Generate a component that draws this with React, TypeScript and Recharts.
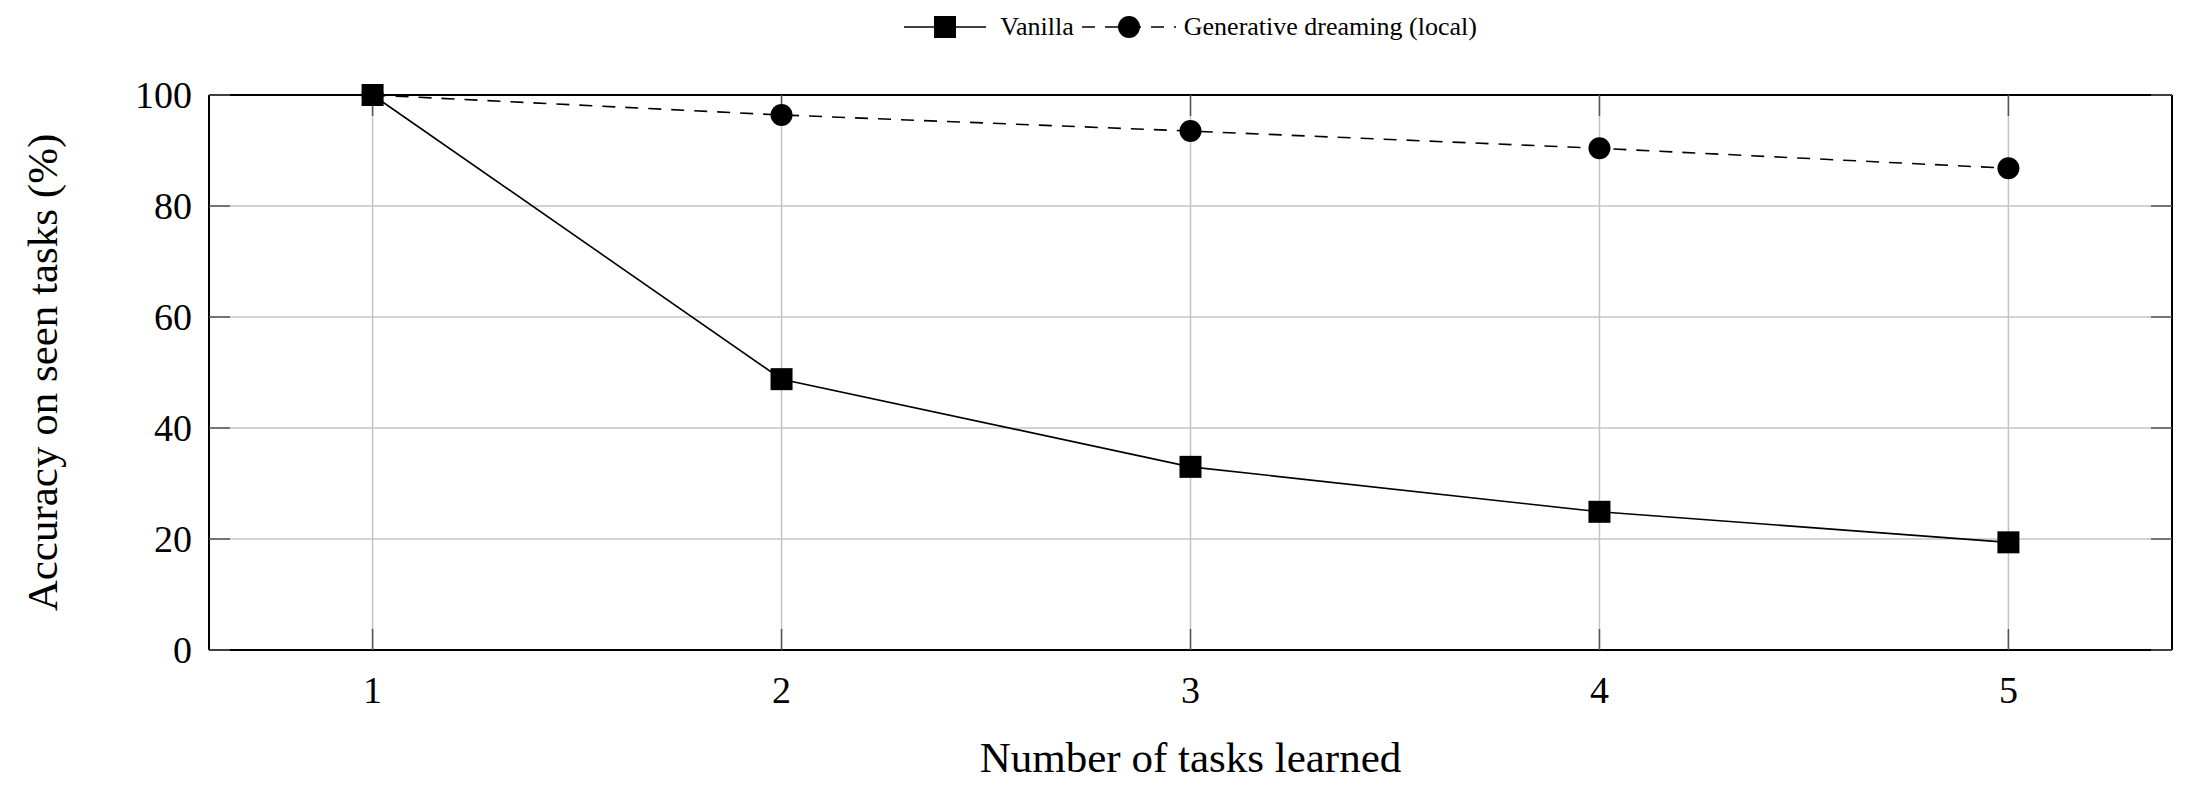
import { LineChart, Line, XAxis, YAxis, CartesianGrid, Legend } from "recharts";

const tasks = [1, 2, 3, 4, 5];
const vanilla = [100, 48.8, 33.0, 24.9, 19.4];
const dreaming = [100, 96.4, 93.5, 90.4, 86.8];
const xTicks = [1, 2, 3, 4, 5];
const yTicks = [0, 20, 40, 60, 80, 100];

const data = tasks.map((t, i) => ({ task: t, vanilla: vanilla[i], dreaming: dreaming[i] }));

const FONT = '"Liberation Serif", "DejaVu Serif", serif';
const GRID = "#c4c4c4";
const TICK = "#555";

const SquareDot = (props: any) => {
  const { cx, cy } = props;
  if (cx == null || cy == null) return null;
  return <rect x={cx - 11} y={cy - 11} width={22} height={22} fill="#000" />;
};

const CircleDot = (props: any) => {
  const { cx, cy } = props;
  if (cx == null || cy == null) return null;
  return <circle cx={cx} cy={cy} r={11} fill="#000" />;
};

const NoTick = () => <g />;

const LegendContent = () => (
  <div
    style={{
      display: "flex",
      justifyContent: "center",
      alignItems: "center",
      fontFamily: FONT,
      fontSize: 26,
      color: "#000",
    }}
  >
    <svg width={82} height={24}>
      <line x1={0} y1={12} x2={82} y2={12} stroke="#000" strokeWidth={1.6} />
      <rect x={30} y={1} width={22} height={22} fill="#000" />
    </svg>
    <span style={{ marginLeft: 14, marginRight: 8 }}>Vanilla</span>
    <svg width={94} height={24}>
      <line x1={0} y1={12} x2={94} y2={12} stroke="#000" strokeWidth={1.6} strokeDasharray="13 10" />
      <circle cx={47} cy={12} r={11} fill="#000" />
    </svg>
    <span style={{ marginLeft: 8 }}>Generative dreaming (local)</span>
  </div>
);

export default function App() {
  return (
    <div style={{ position: "absolute", left: 0, top: 0, background: "#fff" }}>
      <LineChart
        width={2190}
        height={786}
        data={data}
        margin={{ top: 94, right: 17, bottom: 0, left: 0 }}
      >
        <CartesianGrid stroke={GRID} strokeWidth={1.5} />
        <XAxis
          dataKey="task"
          type="number"
          domain={[0.6, 5.4]}
          ticks={xTicks}
          height={136}
          axisLine={{ stroke: "#000", strokeWidth: 2 }}
          tickLine={{ stroke: TICK, strokeWidth: 1.5 }}
          tickSize={-21}
          tickMargin={47}
          tick={{ fontSize: 38, fill: "#000", fontFamily: FONT }}
          label={{
            value: "Number of tasks learned",
            position: "insideBottom",
            offset: 14,
            style: { fontSize: 43, fill: "#000", fontFamily: FONT },
          }}
        />
        <XAxis
          xAxisId="top"
          dataKey="task"
          type="number"
          orientation="top"
          domain={[0.6, 5.4]}
          ticks={xTicks}
          height={1}
          axisLine={{ stroke: "#000", strokeWidth: 2 }}
          tickLine={{ stroke: TICK, strokeWidth: 1.5 }}
          tickSize={-21}
          tick={NoTick}
        />
        <YAxis
          type="number"
          domain={[0, 100]}
          ticks={yTicks}
          width={209}
          axisLine={{ stroke: "#000", strokeWidth: 2 }}
          tickLine={{ stroke: TICK, strokeWidth: 1.5 }}
          tickSize={-21}
          tickMargin={38}
          tick={{ fontSize: 38, fill: "#000", fontFamily: FONT }}
          label={{
            value: "Accuracy on seen tasks (%)",
            angle: -90,
            position: "insideLeft",
            offset: 42,
            style: { fontSize: 43, fill: "#000", fontFamily: FONT, textAnchor: "middle" },
          }}
        />
        <YAxis
          yAxisId="right"
          orientation="right"
          type="number"
          domain={[0, 100]}
          ticks={yTicks}
          width={1}
          axisLine={{ stroke: "#000", strokeWidth: 2 }}
          tickLine={{ stroke: TICK, strokeWidth: 1.5 }}
          tickSize={-21}
          tick={NoTick}
        />
        <Legend
          verticalAlign="middle"
          align="center"
          content={() => <LegendContent />}
          wrapperStyle={{ top: 12, left: 209, width: 1963 }}
        />
        <Line
          dataKey="vanilla"
          name="Vanilla"
          stroke="#000"
          strokeWidth={1.6}
          dot={<SquareDot />}
          activeDot={false}
          isAnimationActive={false}
        />
        <Line
          xAxisId="top"
          yAxisId="right"
          dataKey="dreaming"
          name="Generative dreaming (local)"
          stroke="#000"
          strokeWidth={1.6}
          strokeDasharray="13 10"
          dot={<CircleDot />}
          activeDot={false}
          isAnimationActive={false}
        />
      </LineChart>
    </div>
  );
}
